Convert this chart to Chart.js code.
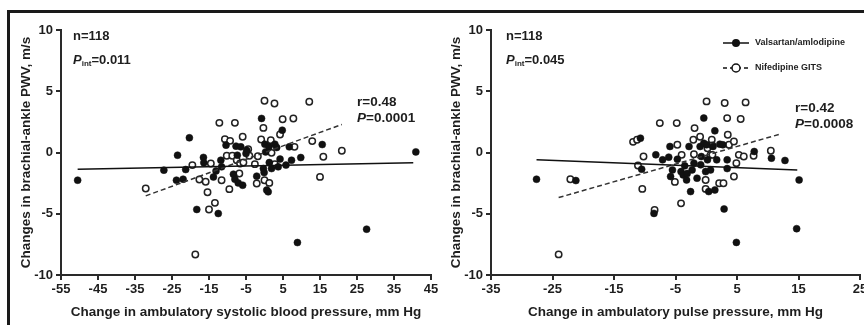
<!DOCTYPE html>
<html><head><meta charset="utf-8">
<script src="https://cdn.jsdelivr.net/npm/chart.js@4.4.0/dist/chart.umd.min.js"></script>
<style>
html,body{margin:0;padding:0;background:#fff;overflow:hidden;width:864px;height:325px}
#wrap{position:relative;width:864px;height:325px;overflow:hidden;background:#fff}
#frame{position:absolute;left:7px;top:10px;width:900px;height:400px;border-top:3px solid #1a1a1a;border-left:3px solid #1a1a1a;box-sizing:border-box}
#c1{position:absolute;left:0;top:0}
#c2{position:absolute;left:432px;top:0}
</style></head><body>
<div id="wrap"><div id="frame"></div>
<canvas id="c1" width="470" height="325"></canvas>
<canvas id="c2" width="460" height="325"></canvas>
</div>
<script>
// ---------- DATA ----------
const seriesNames = ['Valsartan/amlodipine', 'Nifedipine GITS'];
const yTitle = 'Changes in brachial-ankle PWV, m/s';
const xTitleLeft = 'Change in ambulatory systolic blood pressure, mm Hg';
const xTitleRight = 'Change in ambulatory pulse pressure, mm Hg';
const xTicksLeft = [-55, -45, -35, -25, -15, -5, 5, 15, 25, 35, 45];
const xTicksRight = [-35, -25, -15, -5, 5, 15, 25];
const yTicks = [-10, -5, 0, 5, 10];

// Left panel: systolic BP change vs PWV change
const leftValX = [-50.5,-27.2,-23.5,-23.8,-22,-21.3,-20.3,-18.3,-16.5,-16.4,-13.8,-13.1,-12.5,-11.8,-11.6,-10.4,-8.4,-8.0,-7.7,-7.35,-7.1,-6.4,-5.9,-5.0,-4.8,-2.1,-0.8,-0.3,-0.1,0.1,0.3,0.6,1.0,1.2,1.3,1.9,2.8,3.3,3.7,4.8,4.2,5.8,6.7,7.3,8.9,9.8,15.6,27.6,40.9];
const leftValY = [-2.26,-1.44,-0.22,-2.26,-2.18,-1.39,1.2,-4.65,-0.4,-0.84,-2.0,-1.5,-4.98,-0.63,-1.17,0.6,-1.77,-2.18,0.52,-0.22,-2.48,0.46,-2.67,-0.08,0.19,-1.93,2.78,-1.31,-1.63,0.68,0.05,-3.07,-3.21,0.46,-0.82,-1.31,0.68,0.41,-1.17,1.82,-0.54,-1.03,0.46,-0.63,-7.35,-0.41,0.65,-6.26,0.05];
const leftNifX = [-32.1,-19.5,-18.7,-17.6,-15.9,-15.4,-15.0,-14.5,-13.4,-12.2,-11.6,-10.7,-10.2,-9.5,-9.3,-8.7,-8.0,-7.5,-6.8,-6.6,-5.9,-5.7,-4.4,-4.1,-2.6,-2.1,-1.8,-0.9,-0.3,0.0,0.0,1.3,1.7,1.9,2.7,2.8,4.2,4.9,7.8,8.1,12.1,12.9,15.0,15.9,20.9];
const leftNifY = [-2.94,-1.03,-8.33,-2.2,-2.39,-3.24,-4.65,-0.9,-4.11,2.42,-2.26,1.09,-0.27,-2.99,0.95,-0.27,2.42,-0.63,-1.71,-0.9,1.28,-0.82,0.27,-0.27,-0.95,-2.53,-0.3,1.06,2.01,4.22,-2.26,-2.48,1.01,-0.03,4.0,-0.95,1.47,2.72,2.78,0.46,4.14,0.93,-1.99,-0.35,0.14];
const leftValFitX = [-50.5, 40.2], leftValFitY = [-1.36, -0.84];
const leftNifFitX = [-32.1, 20.9], leftNifFitY = [-3.54, 2.29];

// Right panel: pulse pressure change vs PWV change
const rightValX = [-27.6,-21.2,-10.7,-10.5,-8.5,-8.2,-7.1,-6.1,-5.9,-5.8,-5.5,-4.7,-4.1,-3.75,-3.5,-3.2,-3.1,-2.8,-2.55,-2.3,-2.0,-1.5,-1.0,-0.9,-0.8,-0.4,-0.4,-0.1,0.05,0.2,0.4,0.7,1.1,1.4,1.4,1.7,2.2,2.7,2.9,3.4,3.4,4.9,7.8,10.6,12.8,14.7,15.1];
const rightValY = [-2.18,-2.29,1.17,-1.36,-4.97,-0.19,-0.6,-0.38,0.49,-1.96,-1.42,-0.55,-1.56,-1.83,-1.09,-2.24,-1.72,0.49,-3.19,-1.42,-0.87,-2.1,0.49,-1.01,-0.33,2.81,0.76,-1.56,0.63,-0.6,-3.19,-1.42,0.49,1.77,-3.06,-0.6,0.68,0.63,-4.61,-0.6,-1.31,-7.34,0.08,-0.46,-0.65,-6.22,-2.24];
const rightNifX = [-24.0,-22.1,-11.9,-11.25,-11.1,-10.4,-10.2,-8.4,-7.55,-4.8,-4.7,-5.1,-4.1,-4.0,-2.1,-1.9,-2.0,-1.0,-0.1,-0.1,0.05,0.2,0.7,0.9,1.0,1.0,2.1,2.8,3.0,3.4,3.5,3.7,4.5,4.5,4.9,5.3,5.6,6.1,6.4,7.7,10.5];
const rightNifY = [-8.32,-2.18,0.87,1.04,-1.06,-2.97,-0.33,-4.69,2.4,2.4,0.63,-2.4,-4.15,-0.19,1.04,1.99,-0.14,1.28,-2.24,-2.97,4.17,0.35,-0.19,1.04,-0.19,0.57,-2.51,-2.51,4.04,2.81,1.45,0.63,0.9,-1.96,-0.87,-0.19,2.73,-0.33,4.09,-0.27,0.14];
const rightValFitX = [-27.6, 14.8], rightValFitY = [-0.6, -1.42];
const rightNifFitX = [-24.0, 12.2], rightNifFitY = [-3.68, 1.53];

const annLeft = {n: 'n=118', pint: '0.011', r: 'r=0.48', p: '0.0001'};
const annRight = {n: 'n=118', pint: '0.045', r: 'r=0.42', p: '0.0008'};

// ---------- RENDER ----------
const FF = '"Liberation Sans", Arial, Helvetica, sans-serif';
const TXT = '#1e1e1e';
const zip = (xs, ys) => xs.map((x, i) => ({x, y: ys[i]}));

function rich(ctx, x, y, parts) {
  let cx = x;
  for (const p of parts) {
    ctx.font = (p.i ? 'italic ' : '') + 'bold ' + p.s + 'px ' + FF;
    ctx.fillText(p.t, cx, y + (p.sub || 0));
    cx += ctx.measureText(p.t).width;
  }
}

function annPlugin(a, pos) {
  return {
    id: 'ann',
    afterDraw(chart) {
      const ctx = chart.ctx;
      ctx.save();
      ctx.fillStyle = TXT;
      ctx.textBaseline = 'middle';
      ctx.textAlign = 'left';
      rich(ctx, pos.nx, pos.ny, [{t: a.n, s: 13}]);
      rich(ctx, pos.nx, pos.py, [{t: 'P', s: 13, i: true}, {t: 'int', s: 8, sub: 4}, {t: '=' + a.pint, s: 13}]);
      rich(ctx, pos.rx, pos.ry, [{t: a.r, s: 13.5}]);
      rich(ctx, pos.rx, pos.ry + 16, [{t: 'P', s: 13.5, i: true}, {t: '=' + a.p, s: 13.5}]);
      if (pos.legend) {
        const lx = pos.legend.x, ly = pos.legend.y;
        ctx.strokeStyle = '#111'; ctx.lineWidth = 1.5; ctx.setLineDash([]);
        ctx.beginPath(); ctx.moveTo(lx, ly); ctx.lineTo(lx + 26, ly); ctx.stroke();
        ctx.fillStyle = '#111';
        ctx.beginPath(); ctx.arc(lx + 13, ly, 4, 0, Math.PI * 2); ctx.fill();
        ctx.setLineDash([4, 3]);
        ctx.beginPath(); ctx.moveTo(lx, ly + 25); ctx.lineTo(lx + 26, ly + 25); ctx.stroke();
        ctx.setLineDash([]);
        ctx.fillStyle = '#fff';
        ctx.beginPath(); ctx.arc(lx + 13, ly + 25, 4, 0, Math.PI * 2); ctx.fill(); ctx.stroke();
        ctx.fillStyle = TXT;
        rich(ctx, lx + 32, ly, [{t: seriesNames[0], s: 9}]);
        rich(ctx, lx + 32, ly + 25, [{t: seriesNames[1], s: 9}]);
      }
      ctx.restore();
    }
  };
}

function makeChart(id, o) {
  const tickFont = {family: FF, size: 13, weight: 'bold'};
  const titleFont = {family: FF, size: 13.5, weight: 'bold'};
  return new Chart(document.getElementById(id), {
    type: 'scatter',
    data: {
      datasets: [
        {label: seriesNames[0] + ' fit', data: zip(o.vfx, o.vfy), showLine: true, borderColor: '#111', borderWidth: 1.5, pointRadius: 0, order: 0},
        {label: seriesNames[1] + ' fit', data: zip(o.nfx, o.nfy), showLine: true, borderColor: '#333', borderWidth: 1.5, borderDash: [5, 3], pointRadius: 0, order: 0},
        {label: seriesNames[1], data: zip(o.nx, o.ny), pointRadius: 3.2, pointBorderWidth: 1.5, pointBackgroundColor: '#fff', pointBorderColor: '#222', order: 2},
        {label: seriesNames[0], data: zip(o.vx, o.vy), pointRadius: 3.5, pointBorderWidth: 0.5, pointBackgroundColor: '#111', pointBorderColor: '#111', order: 1}
      ]
    },
    options: {
      responsive: false, animation: false, devicePixelRatio: 1,
      layout: {padding: {left: 0, top: 30, right: o.padR, bottom: 0}},
      plugins: {legend: {display: false}, tooltip: {enabled: false}},
      scales: {
        x: {
          type: 'linear', min: o.xTicks[0], max: o.xTicks[o.xTicks.length - 1],
          afterBuildTicks: s => { s.ticks = o.xTicks.map(v => ({value: v})); },
          afterFit: s => { s.height = 50; },
          border: {display: true, color: '#2a2a2a', width: 2},
          grid: {display: true, drawOnChartArea: false, drawTicks: true, tickLength: 5, color: '#2a2a2a', lineWidth: 2},
          ticks: {font: tickFont, color: TXT, padding: 2, maxRotation: 0, autoSkip: false},
          title: {display: true, text: o.xTitle, font: titleFont, color: TXT, padding: {top: 2, bottom: 5}}
        },
        y: {
          type: 'linear', min: -10, max: 10,
          afterBuildTicks: s => { s.ticks = yTicks.map(v => ({value: v})); },
          afterFit: s => { s.width = o.yW; },
          border: {display: true, color: '#2a2a2a', width: 2},
          grid: {display: true, drawOnChartArea: false, drawTicks: true, tickLength: 5, color: '#2a2a2a', lineWidth: 2},
          ticks: {font: tickFont, color: TXT, padding: 3, autoSkip: false},
          title: {display: true, text: yTitle, font: titleFont, color: TXT, padding: {top: o.yTP, bottom: 0}}
        }
      }
    },
    plugins: [annPlugin(o.ann, o.pos)]
  });
}

makeChart('c1', {
  vx: leftValX, vy: leftValY, nx: leftNifX, ny: leftNifY,
  vfx: leftValFitX, vfy: leftValFitY, nfx: leftNifFitX, nfy: leftNifFitY,
  xTicks: xTicksLeft, xTitle: xTitleLeft, padR: 39, yW: 61, yTP: 18,
  ann: annLeft, pos: {nx: 73, ny: 36, py: 60, rx: 357, ry: 102}
});
makeChart('c2', {
  vx: rightValX, vy: rightValY, nx: rightNifX, ny: rightNifY,
  vfx: rightValFitX, vfy: rightValFitY, nfx: rightNifFitX, nfy: rightNifFitY,
  xTicks: xTicksRight, xTitle: xTitleRight, padR: 32, yW: 59, yTP: 16,
  ann: annRight, pos: {nx: 74, ny: 36, py: 60, rx: 363, ry: 108, legend: {x: 291, y: 43}}
});
</script>
</body></html>
